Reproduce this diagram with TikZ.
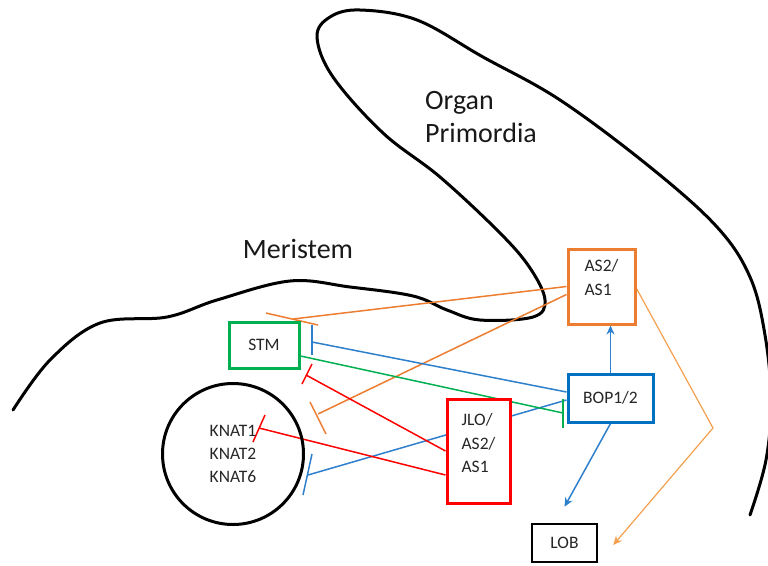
\documentclass[tikz,border=0pt]{standalone}
\usepackage{fontspec}
\setmainfont{Carlito}
\usetikzlibrary{arrows.meta,calc,backgrounds}
\definecolor{cOrange}{HTML}{ED7D31}
\definecolor{cLtOrange}{HTML}{F5A04F}
\definecolor{cBlueBox}{HTML}{0070C0}
\definecolor{cBlue}{HTML}{2E7FCC}
\definecolor{cGreen}{HTML}{00B050}
\definecolor{cRed}{HTML}{FF0000}
\definecolor{cText}{HTML}{262626}
\begin{document}
\begin{tikzpicture}[x=1pt,y=-1pt,
  box/.style={draw, line width=3pt, fill=white, inner sep=0pt, align=left,
    font=\fontsize{17.5}{23.5}\selectfont, text=cText},
  link/.style={line width=1.5pt},
  bigtext/.style={font=\fontsize{28}{33}\selectfont, text=black!90, align=left},
  outline/.style={line width=3pt, line cap=round, line join=round},
  tip/.style={-{Stealth[length=9pt,width=8pt]}}]
\useasboundingbox (0,0) rectangle (768,565);

% nodes
\node[box, draw=cOrange, minimum width=67, minimum height=75] (as) at (601.5,286.5) {AS2/\\AS1\\[-5pt]};
\node[box, draw=cBlueBox, minimum width=85, minimum height=48] (bop) at (610.5,398) {BOP1/2};
\node[box, draw=black, line width=2.5pt, minimum width=65, minimum height=38] (lob) at (564.5,543) {LOB};
\node[box, draw=cGreen, minimum width=70, minimum height=46] (stm) at (264,345) {STM};
\node[box, draw=cRed, minimum width=63, minimum height=104] (jlo) at (478.5,451) {JLO/\\AS2/\\AS1\\[-8pt]};
\node[draw, circle, line width=3pt, minimum size=141, inner sep=0pt, align=center,
  font=\fontsize{17.5}{23}\selectfont, text=cText] (knat) at (233,454) {KNAT1\\KNAT2\\KNAT6};

\node[bigtext] (mer) at (298,249) {Meristem};
\node[bigtext] (org) at (481,117) {Organ\\Primordia};

% inhibitor end points and bars
\coordinate (o1) at (293,319); \coordinate (o1a) at (266,313); \coordinate (o1b) at (318,325);
\coordinate (o2) at (318,414); \coordinate (o2a) at (310,402); \coordinate (o2b) at (326,434);
\coordinate (b1) at (312,342); \coordinate (b1a) at (312,325); \coordinate (b1b) at (312,355);
\coordinate (g1) at (563,413); \coordinate (g1a) at (563,399); \coordinate (g1b) at (563,428);
\coordinate (b2) at (308,475); \coordinate (b2a) at (312,454); \coordinate (b2b) at (303,495);
\coordinate (r1) at (259,428); \coordinate (r1a) at (265,415); \coordinate (r1b) at (253,442);
\coordinate (r2) at (306,375); \coordinate (r2a) at (312,364); \coordinate (r2b) at (302,384);
\coordinate (obend) at (713,428);

\begin{scope}[on background layer]
  % tissue outlines
  \draw[outline] plot[smooth, tension=0.6] coordinates {
    (13,410) (50,360) (100,323) (167,317) (217,300) (290,281) (350,287)
    (413,296) (447,310) (480,320) (533,317) (545,300) (530,268) (500,233)
    (440,177) (383,133) (333,77) (317,37) (330,17) (360,10) (417,20)
    (483,57) (560,100) (650,167) (717,227) (750,277) (765,335) (771,400)
    (766,460) (750,515)};
  % orange inhibitions from AS2/AS1
  \draw[link, cOrange] (as.west) -- (o1);
  \draw[link, cOrange] (o1a) -- (o1b);
  \draw[link, cOrange] ($(as.west)+(0,8)$) -- (o2);
  \draw[link, cOrange] (o2a) -- (o2b);
  % blue inhibitions from BOP1/2
  \draw[link, cBlue] ($(bop.west)+(0,-6)$) -- (b1);
  \draw[link, cBlue] (b1a) -- (b1b);
  \draw[link, cBlue] ($(bop.west)+(0,2)$) -- (b2);
  \draw[link, cBlue] (b2a) -- (b2b);
  % green inhibition from STM
  \draw[link, cGreen] ($(stm.east)+(0,11)$) -- (g1);
  \draw[link, cGreen] (g1a) -- (g1b);
  % red inhibitions from JLO/AS2/AS1
  \draw[link, cRed] ($(jlo.west)+(0,24)$) -- (r1);
  \draw[link, cRed] (r1a) -- (r1b);
  \draw[link, cRed] (jlo.west) -- (r2);
  \draw[link, cRed] (r2a) -- (r2b);
  % activations
  \draw[link, cBlue, tip] (bop.north) -- (bop.north |- as.south);
  \draw[link, cBlue, tip] (bop.south) -- ($(lob.north)+(0,-16)$);
  \draw[line width=1.2pt, cLtOrange, tip] ($(as.east)+(0,2)$) -- (obend) -- ($(lob.east)+(15,2)$);
\end{scope}
\end{tikzpicture}
\end{document}
